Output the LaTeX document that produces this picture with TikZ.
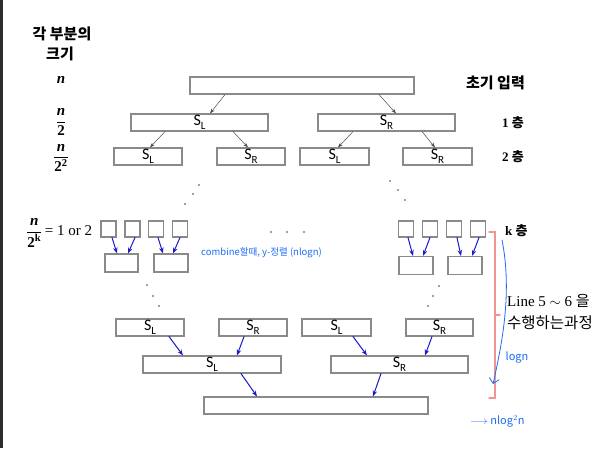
\documentclass[tikz,border=0pt]{standalone}
\usepackage{amsmath}
\usepackage{fontspec}
\setmainfont{Liberation Serif}
\newfontfamily\korfont{Noto Sans CJK KR}
\newfontfamily\calfont{Carlito}
\usetikzlibrary{arrows.meta}
\definecolor{boxgray}{HTML}{8A8A8A}
\definecolor{arrblue}{HTML}{1A1AC8}
\definecolor{penblue}{HTML}{1E6CF5}
\definecolor{bracered}{HTML}{F29494}
\definecolor{leftbar}{HTML}{2E2E2E}
\newcommand{\Sl}{S\raisebox{-3.5pt}{\fontsize{11}{11}\selectfont L}}
\newcommand{\Sr}{S\raisebox{-3.5pt}{\fontsize{11}{11}\selectfont R}}

\begin{document}
\begin{tikzpicture}[x=1pt,y=-1pt,line cap=round,
    blk/.style={draw=boxgray,line width=1.1pt,fill=white,inner sep=0pt,
                minimum height=17pt,font=\calfont\fontsize{16}{18}\selectfont},
    leaf/.style={blk,minimum width=15pt,minimum height=16pt},
    garr/.style={-{Stealth[length=5pt,width=3.5pt]},draw=black!70,line width=0.5pt},
    barr/.style={-{Stealth[length=6pt,width=4.5pt]},draw=arrblue,line width=1pt},
    side/.style={font=\bfseries\fontsize{13}{15}\selectfont},
    frac/.style={font=\bfseries\fontsize{15}{17}\selectfont},
    kside/.style={font=\korfont\bfseries\fontsize{15}{17}\selectfont},
    hand/.style={text=penblue,font=\korfont\fontsize{9.5}{11}\selectfont,inner sep=0pt}]
  \useasboundingbox (0,0) rectangle (608,448);
  \fill[leftbar] (0,0) rectangle (3,448);

  % --- left column: sizes ---
  \node[kside] (hd1) at (62,34) {각 부분의};
  \node[kside] (hd2) at (60,54) {크기};
  \node[frac] (sz0) at (61,80) {\textit{n}};
  \node[frac] (sz1) at (61,122) {$\dfrac{\textbf{\textit{n}}}{\textbf{2}}$};
  \node[frac] (sz2) at (61,158) {$\dfrac{\textbf{\textit{n}}}{\textbf{2}^{\textbf{2}}}$};
  \node[frac,anchor=west,inner sep=0pt] (szk) at (26,233)
       {$\dfrac{\textbf{\textit{n}}}{\textbf{2}^{\textbf{k}}}$\,{\mdseries\fontsize{15}{16}\selectfont= 1 or 2}};

  % --- divide: top half ---
  \node[blk,minimum width=224pt] (top) at (302,85.5) {};
  \node[blk,minimum width=137pt] (l1a) at (199.5,122.5) {\Sl};
  \node[blk,minimum width=137pt] (l1b) at (386.5,122.5) {\Sr};
  \node[blk,minimum width=68pt] (l2a) at (148,156.5) {\Sl};
  \node[blk,minimum width=68pt] (l2b) at (251,156.5) {\Sr};
  \node[blk,minimum width=69pt] (l2c) at (334.5,156.5) {\Sl};
  \node[blk,minimum width=69pt] (l2d) at (437.5,156.5) {\Sr};

  \draw[garr] ([xshift=-77pt]top.south) -- ([xshift=10.5pt]l1a.north);
  \draw[garr] ([xshift=77pt]top.south) -- ([xshift=9.5pt]l1b.north);
  \draw[garr] ([xshift=-34.5pt]l1a.south) -- ([xshift=2pt]l2a.north);
  \draw[garr] ([xshift=33.5pt]l1a.south) -- ([xshift=-3pt]l2b.north);
  \draw[garr] ([xshift=-33.5pt]l1b.south) -- ([xshift=3.5pt]l2c.north);
  \draw[garr] ([xshift=35.5pt]l1b.south) -- ([xshift=-2.5pt]l2d.north);

  % --- leaves and first merge ---
  \foreach \n/\x in {q1/108.5,q2/132.5,q3/156,q4/180,q5/406,q6/430,q7/454,q8/478}
    \node[leaf] (\n) at (\x,229) {};
  \node[blk,minimum width=33pt,minimum height=18pt] (m1) at (121.5,263) {};
  \node[blk,minimum width=34pt,minimum height=18pt] (m2) at (171,263) {};
  \node[blk,minimum width=34pt,minimum height=18pt] (m3) at (416,265.5) {};
  \node[blk,minimum width=34pt,minimum height=18pt] (m4) at (465,265.5) {};
  \foreach \a/\sa/\b/\sb in {q1/3.5/m1/-4.5,q2/2.5/m1/6.5,q3/2/m2/-8,q4/0/m2/2,
                             q5/2/m3/-3,q6/0/m3/7,q7/3/m4/-4,q8/1/m4/7}
    \draw[barr] ([xshift=\sa pt]\a.south) -- ([xshift=\sb pt]\b.north);

  % --- dots ---
  \foreach \p in {(199,185),(193,194),(185,204),(390,181),(398,190),(405,200),
                  (271,232),(287,232),(304,232),(147,285),(153,296),(159,306),
                  (439,286),(433,296),(428,306)}
    \fill[black!75] \p circle (0.9pt);

  % --- merge: bottom half ---
  \node[blk,minimum width=68pt] (ra) at (150,327.5) {\Sl};
  \node[blk,minimum width=68pt] (rb) at (253,327.5) {\Sr};
  \node[blk,minimum width=69pt] (rc) at (336.5,327.5) {\Sl};
  \node[blk,minimum width=67pt] (rd) at (439.5,327.5) {\Sr};
  \node[blk,minimum width=138pt] (sa) at (212,364.5) {\Sl};
  \node[blk,minimum width=137pt] (sb) at (399.5,364.5) {\Sr};
  \node[blk,minimum width=224pt] (fin) at (316,405.5) {};
  \foreach \a/\sa/\b/\sb in {ra/19/sa/-29,rb/-9/sa/25,rc/16.5/sb/-32.5,rd/-7.5/sb/25.5,
                             sa/29/fin/-59,sb/-18.5/fin/57}
    \draw[barr] ([xshift=\sa pt]\a.south) -- ([xshift=\sb pt]\b.north);

  % --- right column: levels ---
  \node[kside,anchor=east,inner sep=0pt] (lv0) at (525,83) {초기 입력};
  \node[side,anchor=west,inner sep=0pt] (lv1) at (502,123) {1 {\korfont 층}};
  \node[side,anchor=west,inner sep=0pt] (lv2) at (502,157) {2 {\korfont 층}};
  \node[side,anchor=west,inner sep=0pt] (lvk) at (505,231) {k {\korfont 층}};
  \node[anchor=west,inner sep=0pt,font=\fontsize{15}{17}\selectfont] (ln1) at (507,301)
       {Line 5 $\sim$ 6 {\korfont 을}};
  \node[anchor=west,inner sep=0pt,font=\korfont\fontsize{15.5}{17}\selectfont] (ln2) at (507,323)
       {수행하는과정};

  % --- brace ---
  \coordinate (br1) at (489,232);
  \coordinate (br2) at (495,315);
  \coordinate (br3) at (489,398);
  \draw[bracered,line width=1.3pt] (br1) -- (br1 -| br2) -- (br2) -- ++(5,0)
        (br2) -- (br3 -| br2) -- (br3);

  % --- handwritten notes ---
  \node[hand,anchor=west] (nt1) at (201,253) {combine할때, y-정렬 (nlogn)};
  \coordinate (pa) at (502,240);
  \coordinate (pb) at (493,384);
  \draw[penblue,line width=0.8pt,-{Straight Barb[length=5pt]}] (pa) .. controls (512,290) and (503,340) .. (pb);
  \node[hand,font=\korfont\fontsize{11}{13}\selectfont] (nt2) at (517,357) {logn};
  \node[hand,anchor=west,font=\korfont\fontsize{11}{13}\selectfont] (nt3) at (470,421)
       {$\longrightarrow$ nlog$^{2}$n};
\end{tikzpicture}
\end{document}
